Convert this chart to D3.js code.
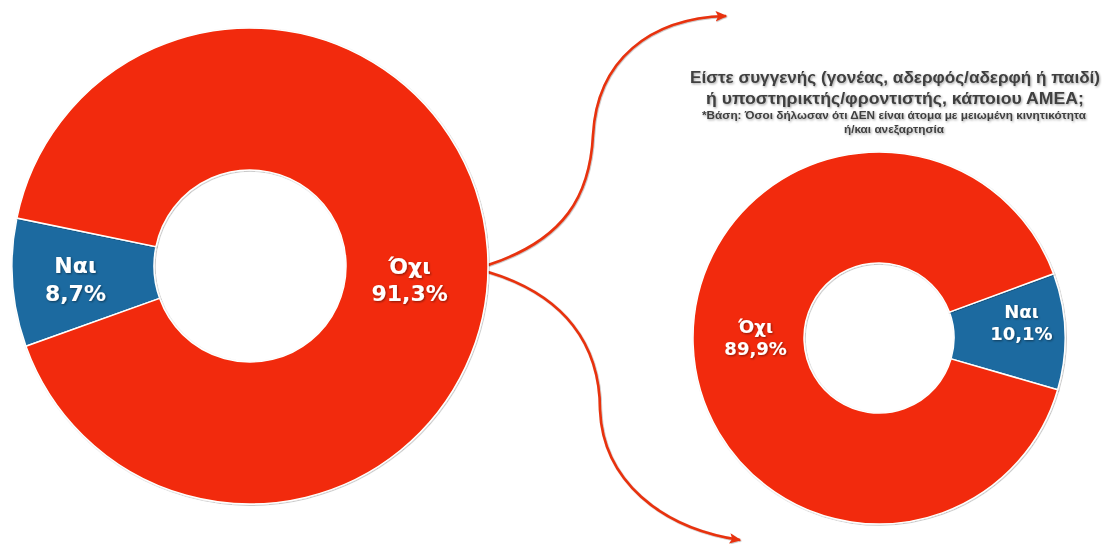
<!doctype html>
<html>
<head>
<meta charset="utf-8"/>
<script src="https://cdnjs.cloudflare.com/ajax/libs/d3/7.8.5/d3.min.js"></script>
<style>
  body { margin: 0; background: #fff; }
  svg { display: block; font-family: "DejaVu Sans", sans-serif; }
</style>
</head>
<body>
<svg width="1106" height="544"></svg>
<script>
// data
var categories = ["Ναι", "Όχι"];
var leftValues = [8.7, 91.3];
var rightValues = [10.1, 89.9];
var titleLines = ["Είστε συγγενής (γονέας, αδερφός/αδερφή ή παιδί)", "ή υποστηρικτής/φροντιστής, κάποιου ΑΜΕΑ;"];
var noteLines = ["*Βάση: Όσοι δήλωσαν ότι ΔΕΝ είναι άτομα με μειωμένη κινητικότητα", "ή/και ανεξαρτησία"];

var colors = d3.scaleOrdinal().domain(categories).range(["#1b6aa0", "#f22c07"]);
var fmt = function(v){ return d3.format(".1f")(v).replace(".", ",") + "%"; };
var rad = function(deg){ return deg * Math.PI / 180; };

var svg = d3.select("svg");
var defs = svg.append("defs");
var f = defs.append("filter").attr("id", "sh").attr("x", "-20%").attr("y", "-20%").attr("width", "140%").attr("height", "140%");
f.append("feDropShadow").attr("dx", 1).attr("dy", 1).attr("stdDeviation", 0.8).attr("flood-color", "#000").attr("flood-opacity", 0.45);
var f2 = defs.append("filter").attr("id", "sh2").attr("x", "-5%").attr("y", "-20%").attr("width", "110%").attr("height", "140%");
f2.append("feDropShadow").attr("dx", 1).attr("dy", 1.2).attr("stdDeviation", 0.9).attr("flood-color", "#000").attr("flood-opacity", 0.35);
var f3 = defs.append("filter").attr("id", "sh3").attr("x", "-10%").attr("y", "-10%").attr("width", "120%").attr("height", "120%");
f3.append("feDropShadow").attr("dx", 0.6).attr("dy", 0.6).attr("stdDeviation", 0.6).attr("flood-color", "#000").attr("flood-opacity", 0.35);

// arrows
var arrowColor = "#e8300d";
defs.append("marker").attr("id", "head").attr("viewBox", "0 0 10 10").attr("refX", 8).attr("refY", 5)
  .attr("markerWidth", 5).attr("markerHeight", 5).attr("orient", "auto")
  .append("path").attr("d", "M0,1 L9,5 L0,9 L2,5 Z").attr("fill", arrowColor);

var upPath = d3.path();
upPath.moveTo(488, 265);
upPath.bezierCurveTo(565, 240, 590, 195, 593, 135);
upPath.bezierCurveTo(597, 60, 650, 18, 726, 16);
var downPath = d3.path();
downPath.moveTo(488, 272);
downPath.bezierCurveTo(565, 295, 600, 345, 600, 410);
downPath.bezierCurveTo(603, 480, 660, 528, 740, 540);

svg.selectAll("path.arrow").data([upPath.toString(), downPath.toString()]).enter()
  .append("path").attr("class", "arrow").attr("d", function(d){ return d; })
  .attr("fill", "none").attr("stroke", arrowColor).attr("stroke-width", 2.6)
  .attr("marker-end", "url(#head)").attr("filter", "url(#sh3)");

function donut(values, cfg) {
  var pie = d3.pie().sort(null).value(function(d){ return d; })
    .startAngle(rad(cfg.start)).endAngle(rad(cfg.start) + 2 * Math.PI);
  var arc = d3.arc().innerRadius(cfg.inner).outerRadius(cfg.outer);
  var g = svg.append("g").attr("transform", "translate(" + cfg.cx + "," + cfg.cy + ")");
  var arcs = pie(values);
  g.selectAll("path").data(arcs).enter().append("path")
    .attr("d", arc)
    .attr("fill", function(d, i){ return colors(categories[i]); })
    .attr("stroke", "#fff").attr("stroke-width", 1.5)
    .attr("filter", "url(#sh3)");
  var lab = g.selectAll("text.lab").data(arcs).enter().append("text")
    .attr("class", "lab")
    .attr("text-anchor", "middle")
    .attr("fill", "#fff").attr("font-weight", "bold")
    .attr("font-size", cfg.fs).attr("filter", "url(#sh)")
    .attr("transform", function(d, i){
      var c = arc.centroid(d);
      var o = cfg.nudge[i];
      return "translate(" + (c[0] + o[0]) + "," + (c[1] + o[1]) + ")";
    });
  lab.append("tspan").attr("x", 0).attr("dy", -cfg.fs * 0.2).text(function(d, i){ return categories[i]; });
  lab.append("tspan").attr("x", 0).attr("dy", cfg.fs * 1.25).text(function(d){ return fmt(d.data); });
}

donut(leftValues, { cx: 250, cy: 266, inner: 96, outer: 238, start: 250.3, fs: 22, nudge: [[-8, 0], [-7, 24]] });
donut(rightValues, { cx: 879, cy: 338, inner: 75, outer: 186, start: 69.8, fs: 18, nudge: [[12, -12], [7, -6]] });

// title
var titleLen = [410, 378];
var noteLen = [384, 100];
var t = svg.append("g").attr("filter", "url(#sh2)").attr("font-family", "'Liberation Sans', sans-serif");
t.selectAll("text.t").data(titleLines).enter().append("text")
  .attr("class", "t").attr("x", 895).attr("y", function(d, i){ return 83 + i * 21; })
  .attr("text-anchor", "middle").attr("font-size", 17).attr("font-weight", "bold")
  .attr("textLength", function(d, i){ return titleLen[i]; }).attr("lengthAdjust", "spacingAndGlyphs")
  .attr("fill", "#404040").text(function(d){ return d; });
t.selectAll("text.n").data(noteLines).enter().append("text")
  .attr("class", "n").attr("x", 894).attr("y", function(d, i){ return 119 + i * 14; })
  .attr("text-anchor", "middle").attr("font-size", 11.5).attr("font-weight", "bold")
  .attr("textLength", function(d, i){ return noteLen[i]; }).attr("lengthAdjust", "spacingAndGlyphs")
  .attr("fill", "#404040").text(function(d){ return d; });
</script>
</body>
</html>
